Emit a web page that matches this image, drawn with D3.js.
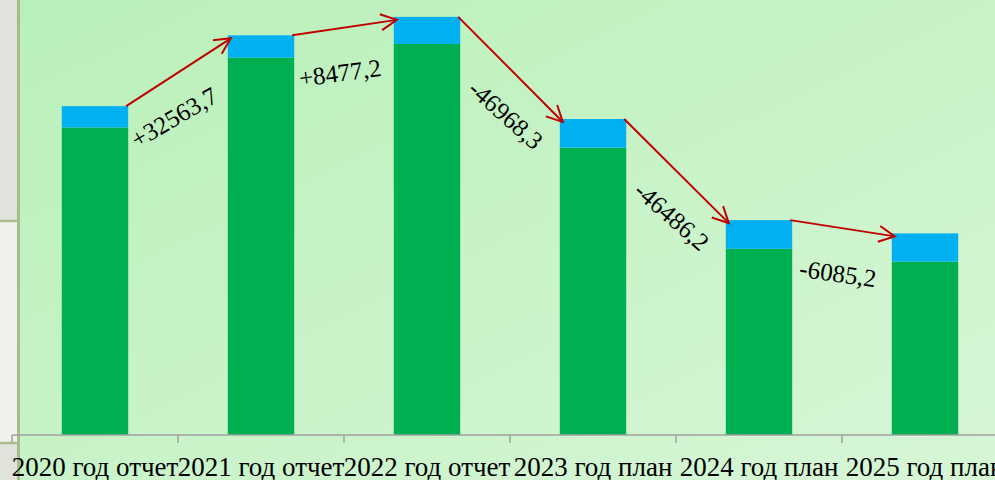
<!DOCTYPE html>
<html>
<head>
<meta charset="utf-8">
<script src="https://cdn.jsdelivr.net/npm/d3@7"></script>
<style>
html,body{margin:0;padding:0;background:#fff;}
svg{display:block;}
</style>
</head>
<body>
<svg id="chart" width="995" height="480"></svg>
<script>
// ---- data ----
const categories = ["2020 год отчет", "2021 год отчет", "2022 год отчет", "2023 год план", "2024 год план", "2025 год план"];
const greenValues = [141400, 173500, 179800, 132100, 85600, 79700];
const blueValues  = [9800, 10260, 12440, 13170, 13190, 13000];
const changeLabels = ["+32563,7", "+8477,2", "-46968,3", "-46486,2", "-6085,2"];
const yDomain = [0, 200000];

const W = 995, H = 480;
const svg = d3.select("#chart");
const defs = svg.append("defs");

// background gradient
const grad = defs.append("linearGradient").attr("id", "bg")
  .attr("x1", "0").attr("y1", "0").attr("x2", "1").attr("y2", "1");
grad.append("stop").attr("offset", "0%").attr("stop-color", "#b9f0b9");
grad.append("stop").attr("offset", "100%").attr("stop-color", "#d7f6d7");

svg.append("rect").attr("x", 19).attr("y", 0).attr("width", W - 19).attr("height", H).attr("fill", "url(#bg)");

// left slide panel
svg.append("rect").attr("x", 0).attr("y", 0).attr("width", 19).attr("height", 221).attr("fill", "#dfe3db");
svg.append("rect").attr("x", 0).attr("y", 221).attr("width", 19).attr("height", 221).attr("fill", "#eff2eb");
svg.append("rect").attr("x", 0).attr("y", 442).attr("width", 19).attr("height", 38).attr("fill", "#dfe3db");
svg.append("line").attr("x1", 18.5).attr("x2", 18.5).attr("y1", 0).attr("y2", H).attr("stroke", "#a9ba8e").attr("stroke-width", 3);
svg.append("line").attr("x1", 0).attr("x2", 19).attr("y1", 221).attr("y2", 221).attr("stroke", "#a9ba8e").attr("stroke-width", 2.5);
svg.append("line").attr("x1", 0).attr("x2", 19).attr("y1", 443).attr("y2", 443).attr("stroke", "#a9ba8e").attr("stroke-width", 2.5);

// scales
const x = d3.scaleBand().domain(categories).range([12, 1008]).paddingInner(0.6).paddingOuter(0.3);
const y = d3.scaleLinear().domain(yDomain).range([435, 0]);
const bw = x.bandwidth();
const step = x.step();

const data = categories.map((c, i) => ({cat: c, green: greenValues[i], blue: blueValues[i], total: greenValues[i] + blueValues[i]}));

// bars
const g = svg.append("g");
g.selectAll("rect.green").data(data).join("rect").attr("class", "green")
  .attr("x", d => x(d.cat)).attr("width", bw)
  .attr("y", d => y(d.green)).attr("height", d => y(0) - y(d.green))
  .attr("fill", "#00b050");
g.selectAll("rect.blue").data(data).join("rect").attr("class", "blue")
  .attr("x", d => x(d.cat)).attr("width", bw)
  .attr("y", d => y(d.total)).attr("height", d => y(d.green) - y(d.total))
  .attr("fill", "#00b0f0");

// axis
const axisG = svg.append("g").attr("transform", `translate(0,${y(0)})`)
  .call(d3.axisBottom(x).tickSize(0).tickSizeOuter(0));
axisG.select(".domain").remove();
axisG.selectAll("text")
  .attr("y", 41).attr("dy", 0)
  .attr("font-family", "'Liberation Serif', 'Times New Roman', serif")
  .attr("font-size", 27).attr("fill", "#000");
svg.append("line").attr("x1", 12).attr("x2", W).attr("y1", y(0)).attr("y2", y(0))
  .attr("stroke", "#a0a0a0").attr("stroke-width", 1.5);
const boundaries = categories.map(c => x(c) - (step - bw) / 2);
svg.selectAll("line.tick2").data(boundaries).join("line").attr("class", "tick2")
  .attr("x1", d => d).attr("x2", d => d).attr("y1", y(0)).attr("y2", y(0) + 8)
  .attr("stroke", "#a0a0a0").attr("stroke-width", 1.5);

// arrows
defs.append("marker").attr("id", "arr").attr("viewBox", "-18 -10 20 20")
  .attr("refX", 0).attr("refY", 0).attr("markerWidth", 20).attr("markerHeight", 20)
  .attr("markerUnits", "userSpaceOnUse").attr("orient", "auto")
  .append("path").attr("d", "M-16,-8 L0,0 L-16,8").attr("fill", "none")
  .attr("stroke", "#c00000").attr("stroke-width", 2);

const arrows = changeLabels.map((lab, i) => {
  const a = data[i], b = data[i + 1];
  const x1 = x(a.cat) + bw - 2, y1 = y(a.total);
  const x2 = x(b.cat) + 3, y2 = y(b.total) + 3;
  return {lab, x1, y1, x2, y2, ang: Math.atan2(y2 - y1, x2 - x1) * 180 / Math.PI,
          gx: (x(a.cat) + bw + x(b.cat)) / 2 - 4, my: (y1 + y2) / 2 + 45};
});
svg.selectAll("line.arrow").data(arrows).join("line").attr("class", "arrow")
  .attr("x1", d => d.x1).attr("y1", d => d.y1).attr("x2", d => d.x2).attr("y2", d => d.y2)
  .attr("stroke", "#c00000").attr("stroke-width", 2).attr("marker-end", "url(#arr)");

svg.selectAll("text.chg").data(arrows).join("text").attr("class", "chg")
  .attr("transform", d => `translate(${d.gx},${d.my}) rotate(${d.ang * 0.92})`)
  .attr("text-anchor", "middle").attr("dy", "0.35em")
  .attr("font-family", "'Liberation Serif', 'Times New Roman', serif")
  .attr("font-size", 25).attr("fill", "#000")
  .text(d => d.lab);
</script>
</body>
</html>
